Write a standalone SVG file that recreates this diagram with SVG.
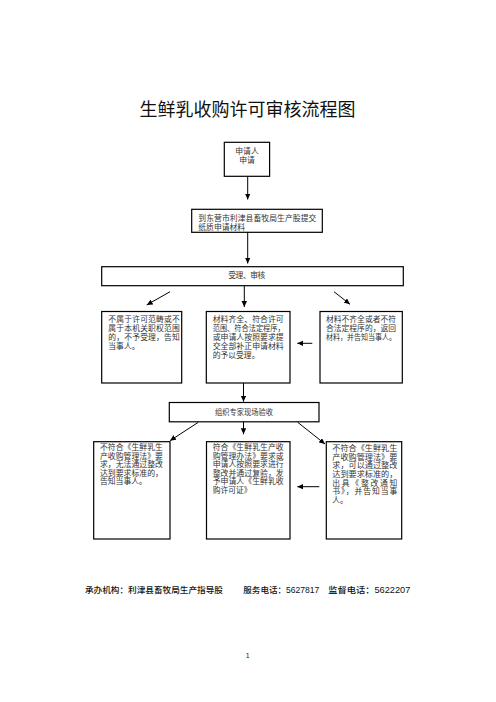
<svg xmlns="http://www.w3.org/2000/svg" width="496" height="702" viewBox="0 0 496 702">
<style>
.box{fill:#fff;stroke:#000;stroke-width:1.2}
.t{font-family:"Liberation Serif","Noto Sans CJK SC",serif;font-size:7.8px;fill:#333}
.c{text-anchor:middle}
.title{font-family:"Noto Sans CJK SC",sans-serif;font-size:18px;fill:#111;text-anchor:middle}
.foot{font-family:"Liberation Sans","Noto Sans CJK SC",sans-serif;font-size:8.5px;font-weight:500;fill:#111}
.ln{stroke:#000;stroke-width:1;fill:none;marker-end:url(#ah)}
</style>
<defs>
<marker id="ah" markerUnits="userSpaceOnUse" markerWidth="7" markerHeight="6" refX="6" refY="2.75" orient="auto">
<path d="M0,0 L6,2.75 L0,5.5 z" fill="#000"/>
</marker>
</defs>
<rect width="496" height="702" fill="#fff"/>
<text class="title" x="247.5" y="115.5">生鲜乳收购许可审核流程图</text>

<g id="connectors">
<line class="ln" x1="247.7" y1="176.5" x2="247.7" y2="199.5"/>
<line class="ln" x1="247.7" y1="232.3" x2="247.7" y2="263.5"/>
<line class="ln" x1="244.3" y1="285.7" x2="244.3" y2="307"/>
<line class="ln" x1="170" y1="291.7" x2="146.7" y2="305"/>
<line class="ln" x1="334" y1="291.7" x2="350" y2="304.3"/>
<line class="ln" x1="312.3" y1="343.3" x2="297.3" y2="343.3"/>
<line class="ln" x1="243.5" y1="382.8" x2="243.5" y2="401.7"/>
<line class="ln" x1="243.5" y1="421.8" x2="243.5" y2="434.3"/>
<line class="ln" x1="198.3" y1="422.3" x2="170" y2="440.7"/>
<line class="ln" x1="297.7" y1="422.3" x2="325" y2="444"/>
<line class="ln" x1="319.3" y1="486.7" x2="297.3" y2="486.7"/>
</g>

<g id="n1">
<rect class="box" x="224.3" y="142.3" width="45.3" height="34"/>
<text class="t c" x="247" y="154">申请人</text>
<text class="t c" x="247" y="163">申请</text>
</g>

<g id="n2">
<rect class="box" x="191.7" y="209.3" width="130.6" height="23"/>
<text class="t" x="198.3" y="220.7" textLength="118" lengthAdjust="spacing">到东营市利津县畜牧局生产股提交</text>
<text class="t" x="198.3" y="229.7">纸质申请材料</text>
</g>

<g id="n3">
<rect class="box" x="101.7" y="266.7" width="301.6" height="19"/>
<text class="t" x="228.3" y="278.3" textLength="37" lengthAdjust="spacing">受理、审核</text>
</g>

<g id="n4">
<rect class="box" x="101.7" y="311.5" width="80" height="71.5"/>
<text class="t" x="108.3" y="322" textLength="71.5" lengthAdjust="spacing">不属于许可范畴或不</text>
<text class="t" x="108.3" y="331" textLength="71.5" lengthAdjust="spacing">属于本机关职权范围</text>
<text class="t" x="108.3" y="340.2" textLength="71.5" lengthAdjust="spacing">的，不予受理，告知</text>
<text class="t" x="108.3" y="349.2">当事人。</text>
</g>

<g id="n5">
<rect class="box" x="206.3" y="311.5" width="83.7" height="71.5"/>
<text class="t" x="212.7" y="322" textLength="71" lengthAdjust="spacingAndGlyphs">材料齐全、符合许可</text>
<text class="t" x="212.7" y="331" textLength="72" lengthAdjust="spacingAndGlyphs">范围、符合法定程序，</text>
<text class="t" x="212.7" y="340.2" textLength="71" lengthAdjust="spacingAndGlyphs">或申请人按照要求提</text>
<text class="t" x="212.7" y="349.2" textLength="71" lengthAdjust="spacingAndGlyphs">交全部补正申请材料</text>
<text class="t" x="212.7" y="358.4">的予以受理。</text>
</g>

<g id="n6">
<rect class="box" x="320" y="311.5" width="82.3" height="71.5"/>
<text class="t" x="326" y="322" textLength="70" lengthAdjust="spacingAndGlyphs">材料不齐全或者不符</text>
<text class="t" x="326" y="331" textLength="70" lengthAdjust="spacingAndGlyphs">合法定程序的，返回</text>
<text class="t" x="326" y="340.2" textLength="70" lengthAdjust="spacingAndGlyphs">材料，并告知当事人。</text>
</g>

<g id="n7">
<rect class="box" x="169.3" y="402.5" width="149.7" height="19.3"/>
<text class="t" x="215" y="414.5" textLength="58" lengthAdjust="spacingAndGlyphs">组织专家现场验收</text>
</g>

<g id="n8">
<rect class="box" x="93.7" y="441.7" width="76.3" height="97.3"/>
<text class="t" x="100" y="450" textLength="63" lengthAdjust="spacingAndGlyphs">不符合《生鲜乳生</text>
<text class="t" x="100" y="458.5" textLength="63" lengthAdjust="spacingAndGlyphs">产收购管理法》要</text>
<text class="t" x="100" y="467" textLength="63" lengthAdjust="spacingAndGlyphs">求，无法通过整改</text>
<text class="t" x="100" y="475.5" textLength="63" lengthAdjust="spacingAndGlyphs">达到要求标准的，</text>
<text class="t" x="100" y="484.3">告知当事人。</text>
</g>

<g id="n9">
<rect class="box" x="206.5" y="441.7" width="83.5" height="97.3"/>
<text class="t" x="212.7" y="450" textLength="71" lengthAdjust="spacingAndGlyphs">符合《生鲜乳生产收</text>
<text class="t" x="212.7" y="458.5" textLength="71" lengthAdjust="spacingAndGlyphs">购管理办法》要求或</text>
<text class="t" x="212.7" y="467" textLength="71" lengthAdjust="spacingAndGlyphs">申请人按照要求进行</text>
<text class="t" x="212.7" y="475.5" textLength="71" lengthAdjust="spacingAndGlyphs">整改并通过复验，发</text>
<text class="t" x="212.7" y="484.3" textLength="71" lengthAdjust="spacingAndGlyphs">予申请人《生鲜乳收</text>
<text class="t" x="212.7" y="493">购许可证》</text>
</g>

<g id="n10">
<rect class="box" x="326.3" y="441.7" width="75.4" height="97.3"/>
<text class="t" x="332.3" y="451.2" textLength="65" lengthAdjust="spacingAndGlyphs">不符合《生鲜乳生</text>
<text class="t" x="332.3" y="459.8" textLength="65" lengthAdjust="spacingAndGlyphs">产收购管理法》要</text>
<text class="t" x="332.3" y="468.4" textLength="65" lengthAdjust="spacingAndGlyphs">求，可以通过整改</text>
<text class="t" x="332.3" y="477" textLength="65" lengthAdjust="spacingAndGlyphs">达到要求标准的，</text>
<text class="t" x="332.3" y="485.6" textLength="65" lengthAdjust="spacing">出具《整改通知</text>
<text class="t" x="332.3" y="494.2" textLength="65" lengthAdjust="spacing">书》，并告知当事</text>
<text class="t" x="332.3" y="502.8">人。</text>
</g>

<text class="foot" x="85" y="593" textLength="138" lengthAdjust="spacingAndGlyphs">承办机构：利津县畜牧局生产指导股</text>
<text class="foot" x="243.3" y="593" textLength="76" lengthAdjust="spacingAndGlyphs">服务电话：5627817</text>
<text class="foot" x="328.3" y="593" textLength="82" lengthAdjust="spacingAndGlyphs">监督电话：5622207</text>
<text x="247.7" y="658" font-family="Liberation Sans, sans-serif" font-size="7" fill="#222" text-anchor="middle">1</text>
</svg>
